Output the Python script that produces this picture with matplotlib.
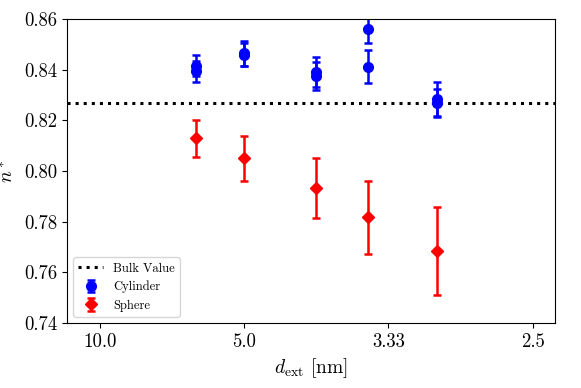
import numpy as np
import matplotlib
matplotlib.use("Agg")
from matplotlib import pyplot as plt

plt.rcParams['font.family'] = 'serif'
plt.rcParams['font.serif'] = ['cmr10']
plt.rcParams['mathtext.fontset'] = 'cm'
plt.rcParams['axes.formatter.use_mathtext'] = True

# data
bulk = 0.827
d_cyl = [6.0, 6.0, 5.0, 5.0, 4.0, 4.0, 3.5, 3.5, 3.0, 3.0]
n_cyl = [0.8416, 0.8393, 0.8465, 0.8459, 0.8390, 0.8376, 0.8560, 0.8412, 0.8284, 0.8269]
e_cyl = [0.0040, 0.0040, 0.0050, 0.0045, 0.0060, 0.0055, 0.0054, 0.0065, 0.0068, 0.0055]

d_sph = [6.0, 5.0, 4.0, 3.5, 3.0]
n_sph = [0.8129, 0.8050, 0.7932, 0.7817, 0.7684]
e_sph = [0.0072, 0.0088, 0.0118, 0.0145, 0.0172]

xticks = [10.0, 5.0, 10 / 3, 2.5]
xticklabels = ['10.0', '5.0', '3.33', '2.5']

fig = plt.figure(figsize=(5.81, 3.88), dpi=100)
ax = fig.add_axes([0.115, 0.1675, 0.84, 0.7835])

ax.axhline(bulk, color='k', ls=':', lw=2.2, label='Bulk Value')
ax.errorbar(1 / np.array(d_cyl), n_cyl, yerr=e_cyl, fmt='o', color='b',
            ms=7, elinewidth=1.8, capsize=3, capthick=1.8, label='Cylinder')
ax.errorbar(1 / np.array(d_sph), n_sph, yerr=e_sph, fmt='D', color='r',
            ms=6, elinewidth=1.8, capsize=3, capthick=1.8, label='Sphere')

ax.set_xticks([1 / t for t in xticks])
ax.set_xticklabels(xticklabels)
ax.set_xlim(0.0771, 0.4153)
ax.set_ylim(0.74, 0.86)
ax.set_yticks(np.arange(0.74, 0.8601, 0.02))
ax.set_yticklabels(['%.2f' % v for v in np.arange(0.74, 0.8601, 0.02)])
ax.tick_params(labelsize=13.5)

ax.set_xlabel(r'$d_{\rm ext}$ [nm]', fontsize=14)
ax.set_ylabel(r'$n^*$', fontsize=14)
ax.legend(loc='lower left', fontsize=9)

fig.savefig('out.png', dpi=100)
